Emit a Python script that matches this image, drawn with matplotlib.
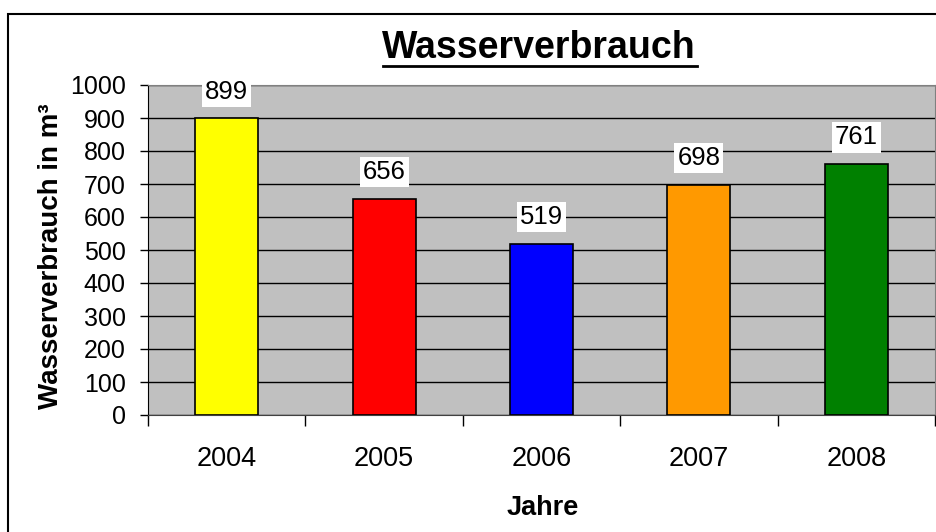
import numpy as np
import matplotlib.pyplot as plt
from matplotlib.patches import Rectangle

# --- data ---
years = ["2004", "2005", "2006", "2007", "2008"]
usage = [899, 656, 519, 698, 761]
bar_colors = ["#FFFF00", "#FF0000", "#0000FF", "#FF9900", "#008000"]

plt.rcParams['font.family'] = ['Liberation Sans', 'DejaVu Sans']

W, H = 937, 532
fig = plt.figure(figsize=(W / 100, H / 100), dpi=100)

# outer chart frame (only left + top visible, rest runs off the image)
fig.patches.append(Rectangle((8 / W, -0.05), 1.0, 1 - 14 / H + 0.05,
                             transform=fig.transFigure, fill=False,
                             edgecolor="black", linewidth=1.5))

ax = fig.add_axes([148 / W, 1 - 415 / H, 787 / W, 330 / H])
ax.set_facecolor("#C0C0C0")

x = np.arange(len(years))
ax.bar(x, usage, width=0.4, color=bar_colors, edgecolor="black",
       linewidth=1.2, zorder=3)

# value labels with white boxes
for xi, v in zip(x, usage):
    ax.annotate(str(v), (xi, v), xytext=(0, 19), textcoords="offset points",
                ha="center", va="center", fontsize=18.5, zorder=4,
                bbox=dict(boxstyle="square,pad=0.12", facecolor="white",
                          edgecolor="none"))

ax.set_xlim(-0.5, len(years) - 0.5)
ax.set_ylim(0, 1000)
ax.set_yticks(np.arange(0, 1001, 100))
ax.yaxis.grid(True, color="black", linewidth=1, zorder=1)
ax.set_axisbelow(True)

# ticks at category boundaries, labels at centres
ax.set_xticks(np.arange(-0.5, len(years), 1.0))
ax.set_xticklabels([])
ax.set_xticks(x, minor=True)
ax.set_xticklabels(years, minor=True, va="baseline")
ax.tick_params(axis="x", which="major", direction="out", length=8, width=1)
ax.tick_params(axis="x", which="minor", length=0, pad=51 * 0.72, labelsize=19.5)
ax.tick_params(axis="y", direction="out", length=6, width=1, pad=10, labelsize=18)

for side in ["top", "right"]:
    ax.spines[side].set_color("#808080")
ax.spines["left"].set_color("black")
ax.spines["bottom"].set_color("#404040")

# axis titles placed by baseline
fig.text(58 / W, 1 - 256 / H, "Wasserverbrauch in m³", rotation=90,
         rotation_mode="anchor", ha="center", va="baseline",
         fontsize=20, fontweight="bold")
fig.text(543 / W, 1 - 515 / H, "Jahre", ha="center", va="baseline",
         fontsize=19.5, fontweight="bold")

fig.text(539 / W, 1 - 58 / H, "Wasserverbrauch", ha="center", va="baseline",
         fontsize=27, fontweight="bold")
# underline of the title
fig.add_artist(plt.Line2D([383 / W, 697 / W], [1 - 66 / H, 1 - 66 / H],
                          color="black", linewidth=2.0, transform=fig.transFigure))

fig.savefig("out.png", dpi=100)
